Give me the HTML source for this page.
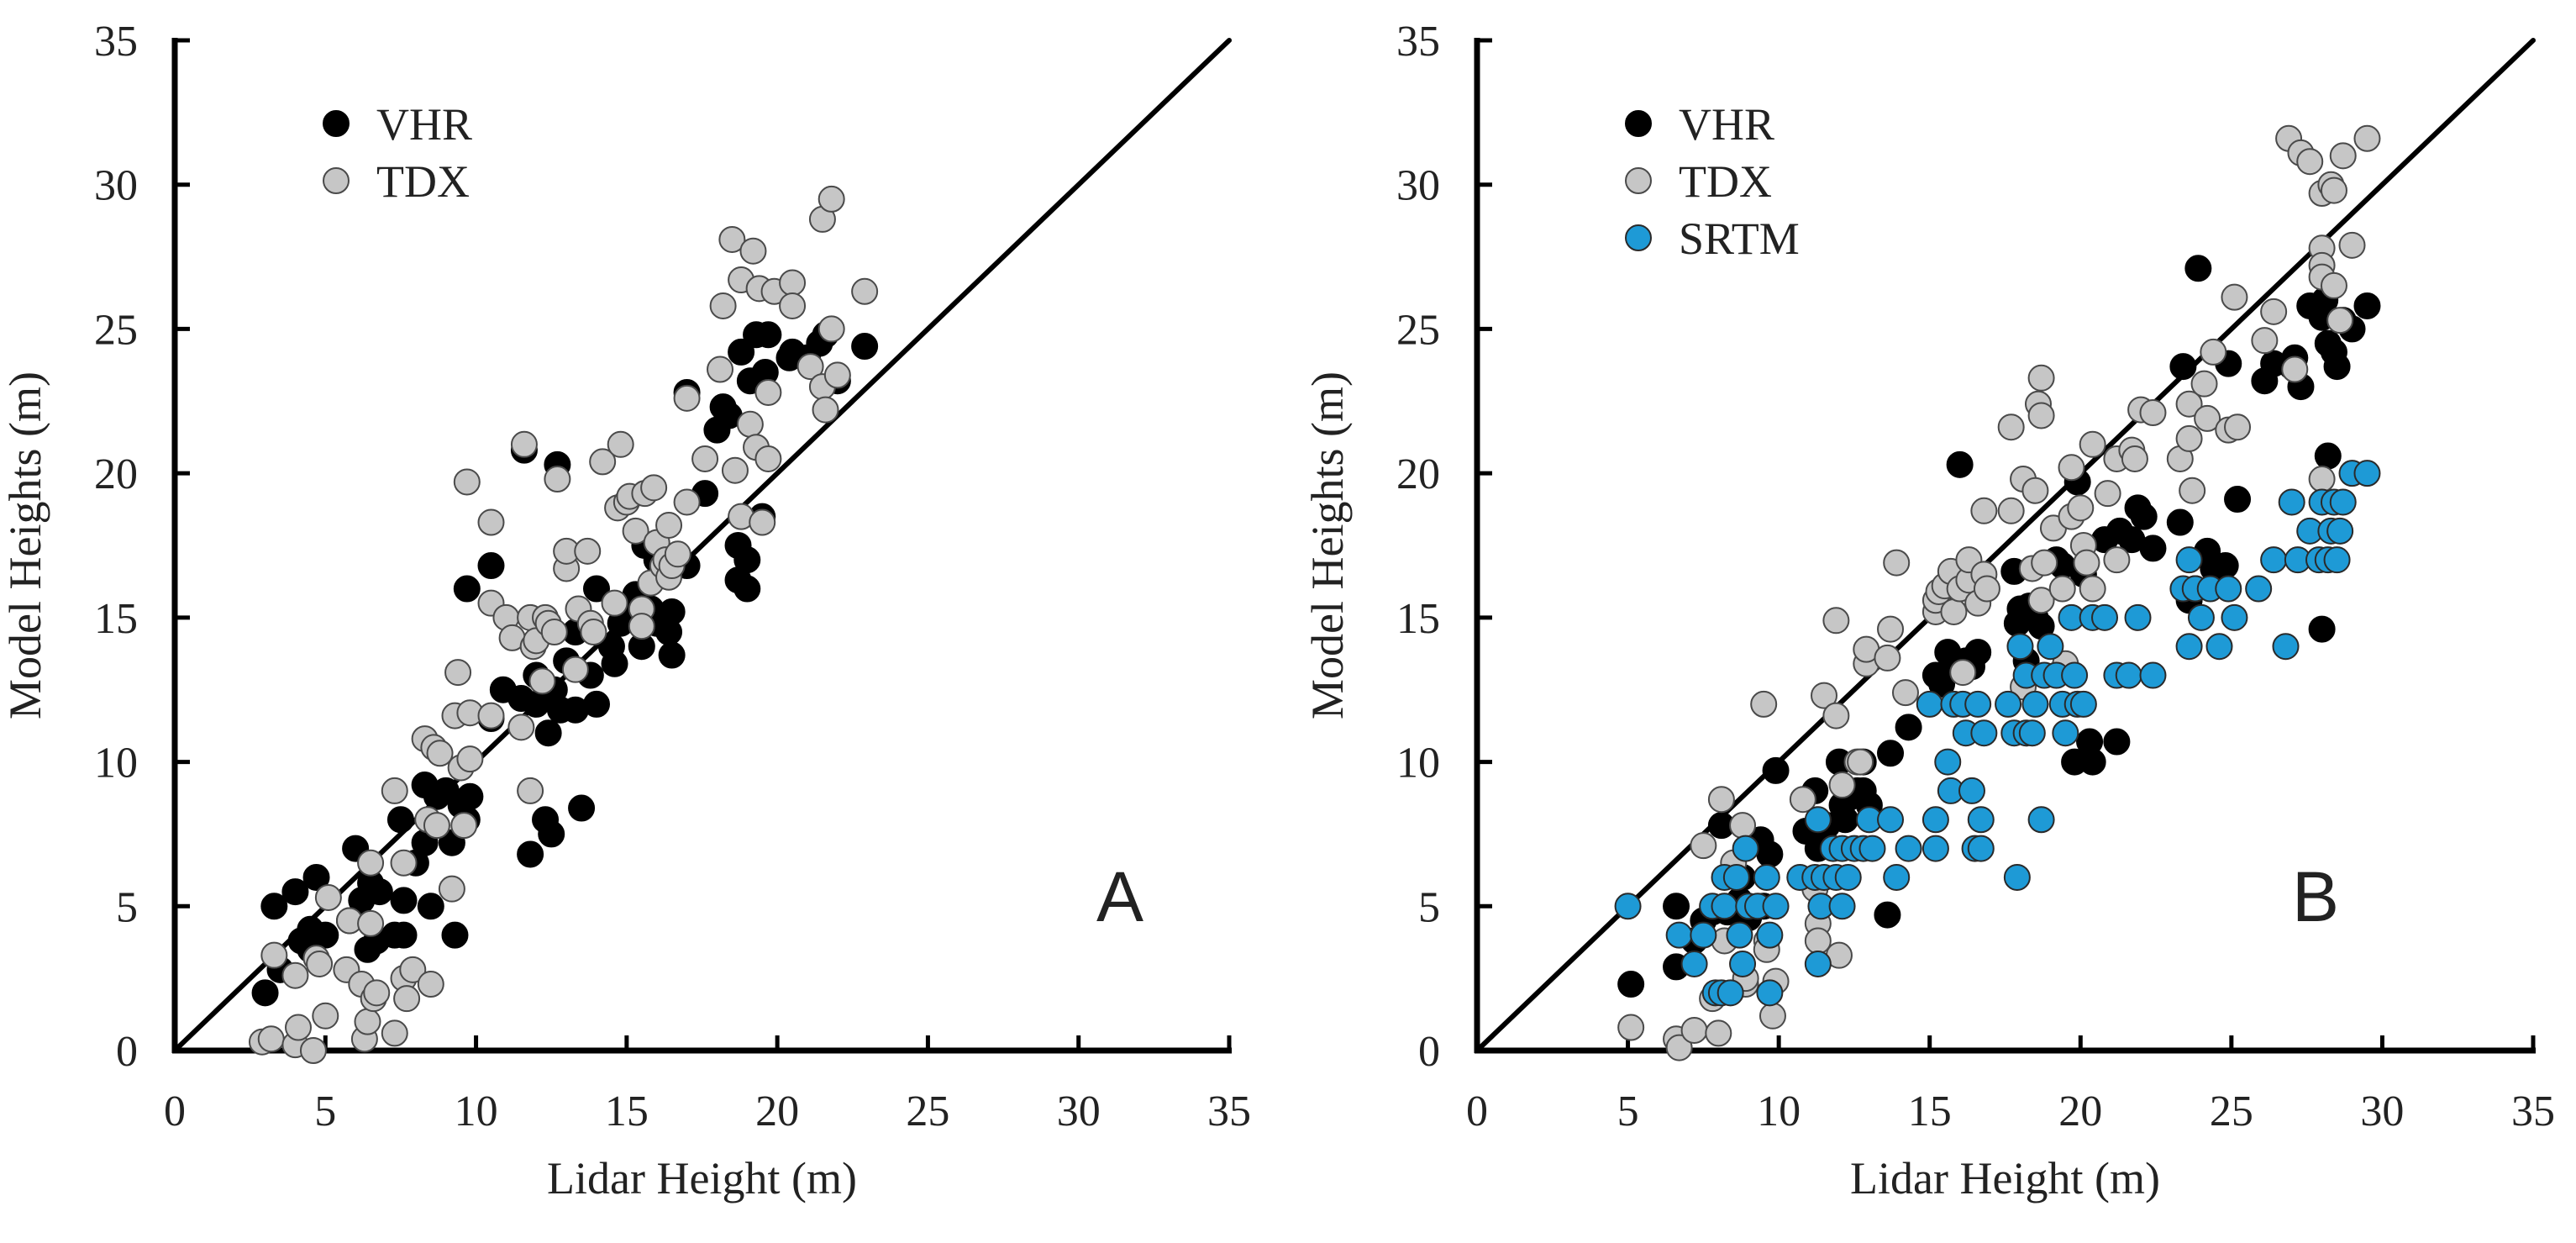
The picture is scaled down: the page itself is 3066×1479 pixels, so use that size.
<!DOCTYPE html>
<html><head><meta charset="utf-8"><style>
html,body{margin:0;padding:0;background:#fff;}
svg{display:block;}
text{font-family:"Liberation Serif",serif;fill:#222;}
</style></head><body>
<svg id="chart" width="3066" height="1479" viewBox="0 0 3066 1479"></svg>
<script>
const xTicks=[0,5,10,15,20,25,30,35];
const yTicks=[0,5,10,15,20,25,30,35];
const aVHR=[[3,2],[3.3,5],[3.5,2.8],[4,5.5],[4.2,3.8],[4.5,4.2],[4.7,6],[4.5,3.5],[5,4],[5.8,4.5],[6,7],[6.2,5.2],[6.4,3.5],[6.5,5.8],[6.7,3.8],[6.8,5.5],[7.3,4],[7.5,8],[7.6,5.2],[7.6,4],[8,6.5],[8.3,9.2],[8.3,7.2],[8.5,5],[8.7,8.8],[9,9],[9.2,7.2],[9.3,4],[9.5,8.5],[9.7,8],[9.8,8.8],[9.7,16],[10.5,11.5],[10.5,16.8],[10.9,12.5],[11.5,12.2],[11.6,20.8],[11.8,6.8],[12,13],[12,12],[12.3,8],[12.4,11],[12.5,7.5],[12.6,12.5],[12.7,20.3],[12.8,11.8],[13,13.5],[13.3,14.5],[13.3,11.8],[13.5,8.4],[13.8,13],[14,16],[14,12],[14.5,14],[14.6,13.4],[14.8,14.8],[15,15],[15.3,15.8],[15.5,14],[15.6,17.5],[15.8,15.3],[16,17],[16,14.8],[16.4,14.5],[16.5,15.2],[16.5,13.7],[17,16.8],[17,22.8],[17.6,19.3],[18,21.5],[18.2,22.3],[18.4,22],[18.7,17.5],[18.7,16.3],[18.8,24.2],[19,17],[19,16],[19.1,23.2],[19.3,24.8],[19.5,18.5],[19.6,23.5],[19.7,24.8],[20.4,24],[20.5,24.2],[21,24],[21.4,24.5],[21.6,24.8],[22,23.2],[22.9,24.4]];
const aTDX=[[2.9,0.3],[3.2,0.4],[3.3,3.3],[4,0.2],[4,2.6],[4.1,0.8],[4.6,0],[4.7,3.2],[4.8,3],[5,1.2],[5.1,5.3],[5.8,4.5],[5.7,2.8],[6.2,2.3],[6.3,0.4],[6.4,1],[6.5,4.4],[6.5,6.5],[6.6,1.8],[6.7,2],[7.3,9],[7.3,0.6],[7.6,6.5],[7.6,2.5],[7.7,1.8],[7.9,2.8],[8.3,10.8],[8.4,8],[8.5,2.3],[8.6,10.5],[8.8,10.3],[8.7,7.8],[9.2,5.6],[9.3,11.6],[9.4,13.1],[9.5,9.8],[9.6,7.8],[9.7,19.7],[9.8,11.7],[9.8,10.1],[10.5,11.6],[10.5,18.3],[10.5,15.5],[11,15],[11.2,14.3],[11.5,11.2],[11.6,21],[11.8,15],[11.8,9],[11.9,14],[12,14.2],[12.2,12.8],[12.3,15],[12.4,14.8],[12.6,14.5],[12.7,19.8],[13,16.7],[13,17.3],[13.3,13.2],[13.4,15.3],[13.7,17.3],[13.8,14.8],[13.9,14.5],[14.2,20.4],[14.6,15.5],[14.7,18.8],[14.8,21],[15,19],[15.1,19.2],[15.3,18],[15.5,15.3],[15.5,14.7],[15.6,19.3],[15.8,16.2],[15.9,19.5],[16,17.6],[16.2,16.8],[16.3,17],[16.4,16.4],[16.4,18.2],[16.5,16.8],[16.7,17.2],[17,19],[17,22.6],[17.6,20.5],[18.1,23.6],[18.2,25.8],[18.5,28.1],[18.6,20.1],[18.8,18.5],[18.8,26.7],[19.1,21.7],[19.2,27.7],[19.3,20.9],[19.4,26.4],[19.5,18.3],[19.7,20.5],[19.7,22.8],[19.9,26.3],[20.5,26.6],[20.5,25.8],[21.1,23.7],[21.5,28.8],[21.5,23],[21.6,22.2],[21.8,29.5],[21.8,25],[22,23.4],[22.9,26.3]];
const bVHR=[[5.1,2.3],[6.6,5],[6.6,2.9],[7.2,3.8],[7.5,4.5],[7.8,4.8],[8.1,7.8],[8.3,4.8],[8.7,5.2],[8.8,6],[9,4.6],[9.4,7.3],[9.5,5],[9.7,6.8],[9.9,9.7],[10.9,7.6],[11.2,9],[11.3,7],[11.6,7.8],[12,10],[12.1,8.5],[12.2,8],[12.4,8.8],[12.6,9],[12.8,10],[12.8,9],[13,8.5],[13.6,4.7],[13.7,10.3],[14.3,11.2],[15.2,13],[15.4,12.7],[15.6,13.8],[15.8,13.2],[16,20.3],[16.2,13.5],[16.4,13.3],[16.6,13.8],[17.8,16.6],[17.9,14.8],[18,15.3],[18.2,13.5],[18.3,15.4],[18.5,15],[18.7,14.7],[19.2,17],[19.4,16.8],[19.8,10],[19.9,19.7],[20.1,16.5],[20.3,10.7],[20.4,10],[20.8,17.7],[21.2,10.7],[21.3,18],[21.7,17.7],[21.9,18.8],[22.1,18.5],[22.4,17.4],[23.3,18.3],[23.4,23.7],[23.6,15.6],[23.8,16],[23.9,27.1],[24.2,17.3],[24.4,16.7],[24.8,16.8],[24.9,23.8],[25.2,19.1],[26.1,23.2],[26.4,23.8],[27,23.7],[27.1,24],[27.3,23],[27.6,25.8],[28,14.6],[28,25.4],[28.1,26],[28.2,20.6],[28.2,24.5],[28.4,24.2],[28.5,23.7],[28.7,25.3],[29,25],[29.5,25.8]];
const bTDX=[[5.1,0.8],[6.6,0.4],[6.7,0.1],[7.2,0.7],[7.5,7.1],[7.8,1.8],[8,0.6],[8.1,8.7],[8.2,3.8],[8.5,6.5],[8.8,7.8],[8.9,2.3],[8.9,2.5],[9.5,12],[9.6,3.8],[9.6,3.5],[9.8,1.2],[9.9,2.4],[10.8,8.7],[11.2,5.6],[11.3,4.4],[11.3,3.8],[11.5,12.3],[11.9,11.6],[11.9,14.9],[12.1,9.2],[12,3.3],[12.6,10],[12.7,10],[12.9,13.4],[12.9,13.9],[13.6,13.6],[13.7,14.6],[14.2,12.4],[13.9,16.9],[15.2,15.2],[15.2,15.6],[15.3,15.9],[15.5,16.1],[15.7,16.6],[15.8,15.2],[16,16],[16.1,13.1],[16.3,16.3],[16.3,17],[16.6,15.5],[16.8,16.5],[16.8,18.7],[16.9,16],[17.7,18.7],[17.7,21.6],[18.1,19.8],[18.1,12.6],[18.4,16.7],[18.5,19.4],[18.6,22.4],[18.7,23.3],[18.7,22],[18.7,15.6],[18.8,16.9],[19.1,18.1],[19.4,16],[19.5,13.4],[19.7,20.2],[19.7,18.5],[20,18.8],[20.1,17.5],[20.2,16.9],[20.4,21],[20.4,16],[20.9,19.3],[21.2,20.5],[21.2,17],[21.7,20.8],[21.8,20.5],[22,22.2],[22.4,22.1],[23.3,20.5],[23.6,22.4],[23.6,21.2],[23.7,19.4],[24.1,23.1],[24.2,21.9],[24.4,24.2],[24.9,21.5],[25.1,26.1],[25.2,21.6],[26.1,24.6],[26.4,25.6],[26.9,31.6],[27.1,23.6],[27.3,31.1],[27.6,30.8],[28,29.7],[28,27.8],[28,27.2],[28,26.8],[28,19.8],[28.3,30],[28.4,26.5],[28.4,29.8],[28.6,25.3],[28.7,31],[29,27.9],[29.5,31.6]];
const bSRTM=[[5,5],[6.7,4],[7.2,3],[7.5,4],[7.8,5],[7.9,2],[8.1,2],[8.2,6],[8.2,5],[8.4,2],[8.6,6],[8.7,4],[8.8,3],[8.9,7],[9,5],[9.3,5],[9.6,6],[9.7,4],[9.7,2],[9.9,5],[10.7,6],[11.2,6],[11.3,8],[11.4,5],[11.5,6],[11.3,3],[11.8,7],[11.9,6],[12.1,7],[12.1,5],[12.3,6],[12.5,7],[12.8,7],[13,8],[13.1,7],[13.7,8],[13.9,6],[14.3,7],[15,12],[15.2,8],[15.2,7],[15.6,10],[15.7,9],[15.8,12],[16.1,12],[16.2,11],[16.4,9],[16.5,7],[16.6,12],[16.7,8],[16.7,7],[16.8,11],[17.6,12],[17.8,11],[17.9,6],[18,14],[18.2,13],[18.2,11],[18.4,11],[18.5,12],[18.7,8],[18.8,13],[19,14],[19.2,13],[19.4,12],[19.5,11],[19.7,15],[19.8,13],[19.9,12],[20.1,12],[20.4,15],[20.8,15],[21.2,13],[21.6,13],[21.9,15],[22.4,13],[23.4,16],[23.6,17],[23.6,14],[23.8,16],[24,15],[24.3,16],[24.6,14],[24.9,16],[25.1,15],[25.9,16],[26.4,17],[26.8,14],[27,19],[27.2,17],[27.6,18],[27.9,17],[28,19],[28.2,17],[28.3,18],[28.4,19],[28.5,17],[28.6,18],[28.7,19],[29,20],[29.5,20]];

const NS='http://www.w3.org/2000/svg';
const svg=document.getElementById('chart');
function mk(tag,attrs,parent){const e=document.createElementNS(NS,tag);for(const k in attrs)e.setAttribute(k,attrs[k]);(parent||svg).appendChild(e);return e;}

function panel(id,x0,x1,series,letter,letterX){
  const y0=1250,y1=48;
  const sx=v=>x0+(x1-x0)*v/35, sy=v=>y0-(y0-y1)*v/35;
  const g=mk('g',{});
  
  
  const ln=mk('line',{x1:sx(0),y1:sy(0),x2:sx(35),y2:sy(35),stroke:'#000','stroke-width':6,'stroke-linecap':'round'},g);
  
  
  const ax=mk('line',{x1:x0-3,y1:y0,x2:x1+3,y2:y0,stroke:'#000','stroke-width':7},g);
  
  
  const ay=mk('line',{x1:x0,y1:y0+3,x2:x0,y2:y1-3,stroke:'#000','stroke-width':7},g);
  
  
  xTicks.forEach(t=>{
    mk('line',{x1:sx(t),y1:y0,x2:sx(t),y2:y0-18,stroke:'#000','stroke-width':5},g);
    const tx=mk('text',{x:sx(t),y:y0+89,'text-anchor':'middle','font-size':52},g);
    tx.textContent=t;
    
    
  });
  yTicks.forEach(t=>{
    mk('line',{x1:x0,y1:sy(t),x2:x0+18,y2:sy(t),stroke:'#000','stroke-width':5},g);
    const tx=mk('text',{x:x0-44,y:sy(t)+18,'text-anchor':'end','font-size':52},g);
    tx.textContent=t;
    
    
  });
  const xt=mk('text',{x:(x0+x1)/2,y:1420,'text-anchor':'middle','font-size':54},g);
  xt.textContent='Lidar Height (m)';
  
  
  const yt=mk('text',{x:0,y:0,'text-anchor':'middle','font-size':54,transform:`translate(${x0-160},${(y0+y1)/2}) rotate(-90)`},g);
  yt.textContent='Model Heights (m)';
  
  
  series.forEach((s,i)=>{
    s.data.forEach(p=>{
      const c=mk('circle',{cx:sx(p[0]),cy:sy(p[1]),r:15,fill:s.fill,stroke:s.stroke,'stroke-width':2},g);
      
      
    });
    const ly=147+i*68;
    const lc=mk('circle',{cx:x0+192,cy:ly,r:15,fill:s.fill,stroke:s.stroke,'stroke-width':2},g);
    
    
    const lt=mk('text',{x:x0+240,y:ly+19,'font-size':54},g);
    lt.textContent=s.name;
    
    
  });
  const L=mk('text',{x:letterX,y:1096,'font-size':84,style:'font-family:"Liberation Sans",sans-serif'},g);
  L.textContent=letter;
  
  
}
const blk={fill:'#000',stroke:'#000'}, gry={fill:'#c6c6c6',stroke:'#4a4a4a'}, blu={fill:'#1e9ad6',stroke:'#2a2a2a'};
panel('a',208,1463,[
  {name:'VHR',data:aVHR,...blk},
  {name:'TDX',data:aTDX,...gry}
],'A',1305);
panel('b',1758,3015,[
  {name:'VHR',data:bVHR,...blk},
  {name:'TDX',data:bTDX,...gry},
  {name:'SRTM',data:bSRTM,...blu}
],'B',2728);
</script>
</body></html>
